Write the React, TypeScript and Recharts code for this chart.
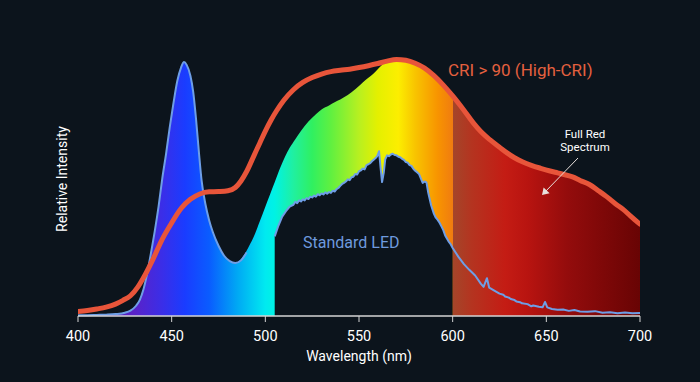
import React from 'react';
import { ComposedChart, Area, Line, XAxis, YAxis } from 'recharts';

const BG = '#0c141c';

// Standard LED spectrum: [wavelength nm, relative intensity]
const ledSpectrum: [number, number][] = [
  [400, 0.3], [405, 0.3], [410, 0.4], [415, 0.5], [420, 0.7], [425, 1.2], [428, 2], [431, 3.8], [433, 6], [435, 10],
  [437, 16], [439, 23.5], [441, 31.5], [443, 40.5], [445, 51], [447, 60], [449, 70], [451, 79], [453, 87], [455, 92],
  [456.6, 94.1], [458, 93], [460, 89], [461.5, 83], [463, 73], [464.5, 61], [466, 50], [468, 41.5], [470, 35.5], [472, 31],
  [475, 26], [478, 22.3], [481, 20.3], [484, 19.6], [487, 20.6], [490, 23.5], [495, 27], [500, 28.8],
  [505, 29.5], [507, 33.5], [509, 36.8], [511, 38.8], [513, 40.5], [515, 41.2], [516, 42.3], [517, 41.8], [518, 42.8], [519, 42.4],
  [520, 43.2], [521, 42.8], [522, 43.7], [523, 43.3], [524, 44.2], [525, 43.9], [526, 44.6], [527, 44.2], [528, 45.1], [529, 44.7],
  [530, 45.4], [531, 45.0], [532, 45.8], [533, 45.3], [534, 45.9], [535, 45.6], [536, 46.4], [537, 46.1], [538, 47], [539, 47.4],
  [540, 48.2], [541, 48.9], [542, 49.3], [543, 49.8], [544, 50.6], [545, 50.3], [546, 51.4], [547, 51.6], [548, 52.6], [549, 52.4],
  [550, 53.6], [551, 53.9], [552, 54.6], [553, 54.3], [554, 55.9], [555, 56.2], [556, 56.6], [557, 57.4], [558, 58], [559, 58.6],
  [559.8, 59.3], [560.7, 61], [561.5, 55], [562.3, 49.6], [563.2, 53], [564, 58], [565, 59.5], [566, 59.2], [567, 59.8], [568, 60.1],
  [569, 59.6], [570, 59.5], [571, 59.0], [572, 58.8], [573, 58.2], [574, 57.8], [575, 57.0], [576, 56.8], [577, 55.9], [578, 55.6],
  [579, 54.5], [580, 53.8], [581, 53.2], [582, 52.6], [583, 51.0], [584, 49.3], [585, 49.8], [586, 49.5], [587, 45.5], [588.5, 41],
  [590, 37.8], [591, 36.4], [592, 35.6], [593, 34.5], [594, 33.2], [595, 31.8], [596, 29.8], [597, 28.6], [598, 27.4], [599, 26.5],
  [600, 25.2], [603, 22], [606, 19.2], [609, 17], [612, 15], [615, 12], [616.5, 10.8], [618.3, 14], [619.5, 10.5], [622, 9.5],
  [625, 8.3], [627, 7.9], [628, 7.2], [630, 6.8], [631, 6.3], [633, 5.9], [634, 5.4], [636, 5.1], [637, 4.7], [640, 4.4],
  [642, 3.6], [643, 3.9], [646, 3.4], [648, 3.2], [649.3, 5.2], [650.5, 3.2], [653, 2.6], [656, 2.3], [659, 2.4], [662, 1.9],
  [665, 2.2], [668, 1.7], [672, 1.6], [676, 1.8], [680, 1.2], [684, 1.4], [688, 1.0], [692, 1.3], [696, 1.0], [700, 1.1],
];

// CRI > 90 spectrum: [wavelength nm, relative intensity]
const criSpectrum: [number, number][] = [
  [400, 1.7], [405, 2], [410, 2.6], [415, 3.3], [420, 4.4], [424, 5.8], [428, 7.5], [432, 10.8], [436, 15.5], [440, 21],
  [445, 28.5], [450, 34.5], [455, 39.8], [460, 43.2], [465, 45.2], [470, 46], [475, 46.1], [480, 46.4], [484, 47.6], [487, 50],
  [490, 53.5], [494, 59.5], [497, 64], [500, 68.5], [503, 72.5], [506, 76], [510, 80], [515, 83.8], [520, 86.5], [525, 88.3],
  [530, 89.6], [535, 90.5], [540, 91], [545, 91.4], [550, 92], [555, 92.7], [560, 93.5], [565, 94.4], [570, 95], [575, 94.7],
  [580, 93.6], [585, 91.8], [590, 89], [595, 85.5], [600, 81.5], [606, 76.2], [611, 71.5], [615, 68.3], [620, 65.2], [625, 62.5],
  [629, 60.4], [633, 58.6], [637.5, 57], [642, 55.8], [647, 54.7], [652, 53.7], [656, 53], [660, 52.3], [664, 51.5], [668, 50.2],
  [673, 48.7], [678, 46.3], [682, 44.3], [687, 41.5], [691, 39.5], [695, 37], [700, 34],
];

// Upper edge of the coloured spectrum fill (it joins the CRI curve from 565 nm on)
const spectrumEdge: [number, number][] = [
  [484, 19.6], [487, 21], [489, 23], [491, 25.5], [494.5, 30.5], [497, 35], [500, 40.5], [502.5, 45], [505, 49.5], [508, 55],
  [510.5, 59], [513, 62.3], [516, 65.5], [519, 68.5], [523, 72], [527, 74.7], [530, 76.5], [534, 78], [537, 79.2], [540, 80.2],
  [544, 81.8], [548, 84], [552, 86.5], [555, 88.2], [557.5, 89.6], [560, 91.4], [562, 92.8],
];
const EDGE_JOINS_CRI_AT = 565;

const xTicks = [400, 450, 500, 550, 600, 650, 700];

type Row = {
  wl: number;
  cri: number | null;
  env: number | null;
  ledA: number | null;
  ledB: number | null;
  blueFill: number | null;
  dark: number | null;
};

function buildRows(): Row[] {
  const map = new Map<number, Row>();
  const get = (wl: number): Row => {
    let r = map.get(wl);
    if (!r) {
      r = { wl, cri: null, env: null, ledA: null, ledB: null, blueFill: null, dark: null };
      map.set(wl, r);
    }
    return r;
  };
  ledSpectrum.forEach(([wl, v]) => {
    const r = get(wl);
    if (wl <= 490) {
      r.ledA = v;
      r.blueFill = v;
    }
    if (wl >= 505) r.ledB = v;
    if (wl >= 505 && wl <= 600) r.dark = v;
  });
  criSpectrum.forEach(([wl, v]) => {
    const r = get(wl);
    r.cri = v;
    if (wl >= EDGE_JOINS_CRI_AT) r.env = v;
  });
  spectrumEdge.forEach(([wl, v]) => {
    get(wl).env = v;
  });
  return Array.from(map.values()).sort((a, b) => a.wl - b.wl);
}

const rows = buildRows();

const PLOT_LEFT = 78;
const PLOT_RIGHT = 640;
const off = (nm: number) => `${((nm - 400) / 300) * 100}%`;

const specStops: [number, string][] = [
  [400, '#4a1c9c'],
  [430, '#5a22c8'],
  [445, '#3a2ee8'],
  [457, '#1a3cff'],
  [470, '#0a5cff'],
  [485, '#00a8f4'],
  [500, '#00eaf0'],
  [505, '#00f2e4'],
  [515, '#20f0a0'],
  [525, '#30f060'],
  [535, '#60f040'],
  [550, '#b8f020'],
  [560, '#e4f000'],
  [571, '#fcee00'],
  [580, '#f8c400'],
  [592, '#f89400'],
  [600, '#f07c10'],
  [600.05, '#a4462a'],
  [610, '#b43420'],
  [628, '#c41c14'],
  [640, '#b81410'],
  [661, '#940c0c'],
  [700, '#680404'],
];

const FONT = 'Roboto, "Noto Sans", sans-serif';
const BLUE = '#6e9ee6';

export default function App() {
  return (
    <div
      style={{
        position: 'fixed',
        left: 0,
        top: 0,
        width: 700,
        height: 382,
        background: BG,
        fontFamily: FONT,
      }}
    >
      <ComposedChart
        width={700}
        height={382}
        data={rows}
        margin={{ top: 43, right: 60, bottom: 16, left: 78 }}
      >
        <defs>
          <linearGradient
            id="spec"
            gradientUnits="userSpaceOnUse"
            x1={PLOT_LEFT}
            y1={0}
            x2={PLOT_RIGHT}
            y2={0}
          >
            {specStops.map(([nm, c], i) => (
              <stop key={i} offset={off(nm)} stopColor={c} />
            ))}
          </linearGradient>
        </defs>
        <XAxis
          dataKey="wl"
          type="number"
          domain={[400, 700]}
          ticks={xTicks}
          allowDataOverflow
          height={50}
          axisLine={{ stroke: '#d4d4d4', strokeWidth: 1.5 }}
          tickLine={{ stroke: '#d4d4d4' }}
          tickSize={6}
          tickMargin={9}
          tick={{ fill: '#ffffff', fontSize: 14.5, fontFamily: FONT }}
          label={{
            value: 'Wavelength (nm)',
            position: 'insideBottom',
            offset: 5,
            fill: '#ffffff',
            fontSize: 14,
            fontFamily: FONT,
          }}
        />
        <YAxis
          type="number"
          domain={[0, 101.1]}
          width={0}
          tick={false}
          tickLine={false}
          axisLine={{ stroke: '#d4d4d4', strokeWidth: 1.5 }}
        />
        <Area
          dataKey="env"
          type="monotone"
          connectNulls
          fill="url(#spec)"
          fillOpacity={1}
          stroke="none"
          isAnimationActive={false}
          dot={false}
          activeDot={false}
        />
        <Area
          dataKey="blueFill"
          type="monotone"
          connectNulls
          fill="url(#spec)"
          fillOpacity={1}
          stroke="none"
          isAnimationActive={false}
          dot={false}
          activeDot={false}
        />
        <Area
          dataKey="dark"
          type="monotone"
          connectNulls
          fill={BG}
          fillOpacity={1}
          stroke="none"
          isAnimationActive={false}
          dot={false}
          activeDot={false}
        />
        <Line
          dataKey="ledA"
          type="monotone"
          connectNulls
          stroke={BLUE}
          strokeWidth={2}
          dot={false}
          activeDot={false}
          isAnimationActive={false}
        />
        <Line
          dataKey="ledB"
          type="linear"
          connectNulls
          stroke={BLUE}
          strokeWidth={2}
          strokeLinejoin="round"
          dot={false}
          activeDot={false}
          isAnimationActive={false}
        />
        <Line
          dataKey="cri"
          type="monotone"
          connectNulls
          stroke="#e8553a"
          strokeWidth={5}
          strokeLinecap="round"
          dot={false}
          activeDot={false}
          isAnimationActive={false}
        />
      </ComposedChart>
      <svg
        width={700}
        height={382}
        style={{ position: 'absolute', left: 0, top: 0, pointerEvents: 'none' }}
      >
        <text
          x={62}
          y={179}
          transform="rotate(-90 62 179)"
          textAnchor="middle"
          dominantBaseline="central"
          fill="#ffffff"
          fontSize={14}
          fontFamily={FONT}
        >
          Relative Intensity
        </text>
        <text
          x={448}
          y={70}
          dominantBaseline="central"
          fill="#e4603f"
          fontSize={17}
          fontFamily={FONT}
        >
          CRI &gt; 90 (High-CRI)
        </text>
        <text
          x={303}
          y={242}
          dominantBaseline="central"
          fill="#6e9ade"
          fontSize={16}
          fontFamily={FONT}
        >
          Standard LED
        </text>
        <text
          x={585}
          y={134}
          textAnchor="middle"
          dominantBaseline="central"
          fill="#ffffff"
          fontSize={11.5}
          fontFamily={FONT}
        >
          Full Red
        </text>
        <text
          x={585}
          y={147}
          textAnchor="middle"
          dominantBaseline="central"
          fill="#ffffff"
          fontSize={11.5}
          fontFamily={FONT}
        >
          Spectrum
        </text>
        <line x1={578} y1={158} x2={545} y2={192} stroke="#e8e0dc" strokeWidth={1} />
        <path d="M542,195 L543.6,187.6 L549.6,193.2 Z" fill="#e8e0dc" />
      </svg>
    </div>
  );
}
